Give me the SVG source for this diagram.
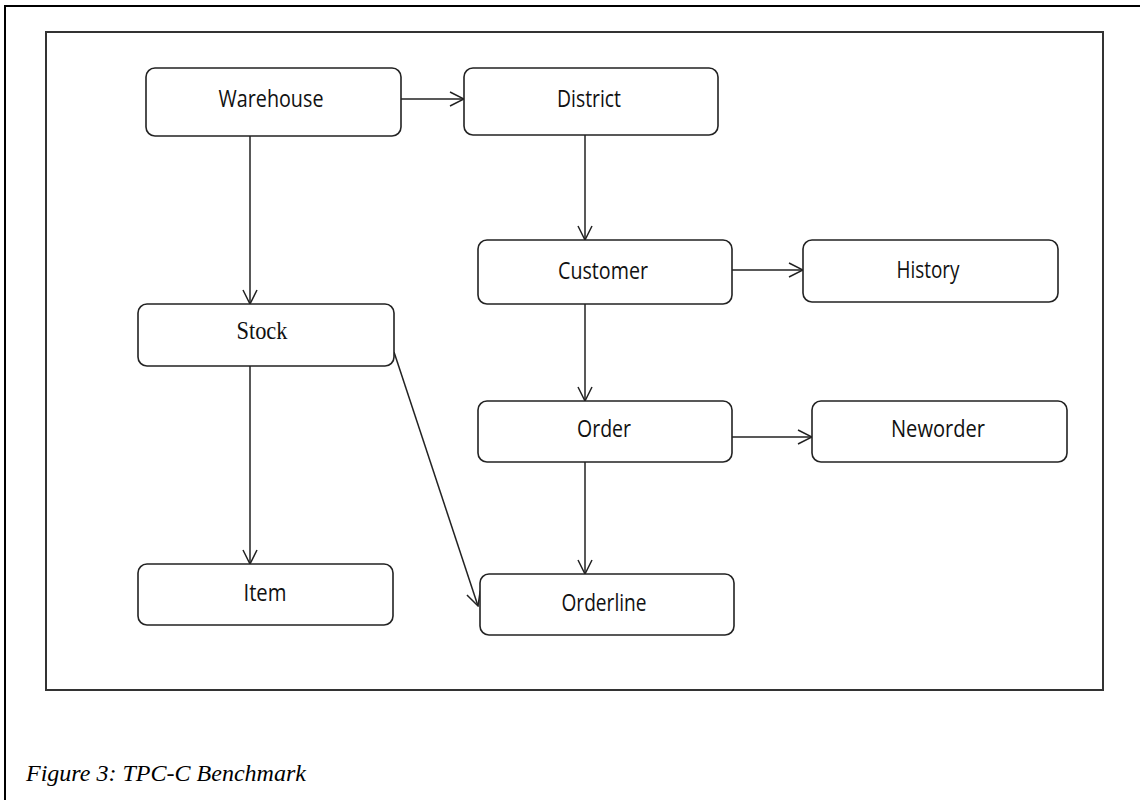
<svg xmlns="http://www.w3.org/2000/svg" width="1140" height="800" viewBox="0 0 1140 800">
<style>
.frame{fill:none;stroke:#000;stroke-width:2}
.inner{fill:none;stroke:#333;stroke-width:2}
.box{fill:#fff;stroke:#222;stroke-width:1.6}
.lbl{font-family:"Open Sans","Liberation Sans",sans-serif;font-size:23px;fill:#111;text-anchor:middle}
.serif{font-family:"Liberation Serif",serif;font-size:25px;fill:#111;text-anchor:middle}
.edge{fill:none;stroke:#222;stroke-width:1.5;marker-end:url(#arr)}
.cap{font-family:"Liberation Serif",serif;font-style:italic;font-size:23px;fill:#000}
</style>
<defs>
<marker id="arr" viewBox="0 0 16 16" refX="15" refY="8" markerWidth="16" markerHeight="16" markerUnits="userSpaceOnUse" orient="auto">
<path d="M1,1 L15,8 L1,15" fill="none" stroke="#222" stroke-width="1.5"/>
</marker>
</defs>
<rect width="1140" height="800" fill="#fff"/>
<path class="frame" d="M5,800 V6 H1140"/>
<rect class="inner" x="46" y="32" width="1057" height="658"/>
<g id="connectors">
<line class="edge" x1="401" y1="99" x2="464" y2="99"/>
<line class="edge" x1="250" y1="136" x2="250" y2="304"/>
<line class="edge" x1="585" y1="135" x2="585" y2="240"/>
<line class="edge" x1="732" y1="270" x2="803" y2="270"/>
<line class="edge" x1="585" y1="304" x2="585" y2="401"/>
<line class="edge" x1="732" y1="437" x2="812" y2="437"/>
<line class="edge" x1="585" y1="462" x2="585" y2="574"/>
<line class="edge" x1="250" y1="366" x2="250" y2="564"/>
<line class="edge" x1="394" y1="352" x2="478" y2="606"/>
</g>
<g id="warehouse"><rect class="box" x="146" y="68" width="255" height="68" rx="9"/><text class="lbl" x="271" y="107" textLength="105" lengthAdjust="spacingAndGlyphs">Warehouse</text></g>
<g id="district"><rect class="box" x="464" y="68" width="254" height="67" rx="9"/><text class="lbl" x="589" y="107" textLength="64" lengthAdjust="spacingAndGlyphs">District</text></g>
<g id="customer"><rect class="box" x="478" y="240" width="254" height="64" rx="9"/><text class="lbl" x="603" y="279" textLength="90" lengthAdjust="spacingAndGlyphs">Customer</text></g>
<g id="history"><rect class="box" x="803" y="240" width="255" height="62" rx="9"/><text class="lbl" x="928" y="278" textLength="63" lengthAdjust="spacingAndGlyphs">History</text></g>
<g id="stock"><rect class="box" x="138" y="304" width="256" height="62" rx="9"/><text class="serif" x="262" y="339" textLength="51" lengthAdjust="spacingAndGlyphs">Stock</text></g>
<g id="order"><rect class="box" x="478" y="401" width="254" height="61" rx="9"/><text class="lbl" x="604" y="437" textLength="54" lengthAdjust="spacingAndGlyphs">Order</text></g>
<g id="neworder"><rect class="box" x="812" y="401" width="255" height="61" rx="9"/><text class="lbl" x="938" y="437" textLength="94" lengthAdjust="spacingAndGlyphs">Neworder</text></g>
<g id="item"><rect class="box" x="138" y="564" width="255" height="61" rx="9"/><text class="lbl" x="265" y="601" textLength="43" lengthAdjust="spacingAndGlyphs">Item</text></g>
<g id="orderline"><rect class="box" x="480" y="574" width="254" height="61" rx="9"/><text class="lbl" x="604" y="611" textLength="85" lengthAdjust="spacingAndGlyphs">Orderline</text></g>
<text class="cap" x="26" y="781" textLength="280" lengthAdjust="spacingAndGlyphs">Figure 3: TPC-C Benchmark</text>
</svg>
